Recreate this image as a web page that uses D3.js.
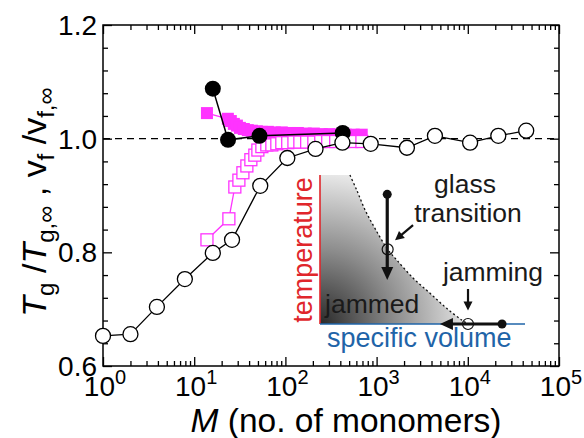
<!DOCTYPE html>
<html>
<head>
<meta charset="utf-8">
<script src="https://cdn.jsdelivr.net/npm/d3@7"></script>
<style>
  body { margin: 0; background: #fff; }
  svg { display: block; font-family: "Liberation Sans", Arial, Helvetica, sans-serif; }
</style>
</head>
<body>
<svg id="chart" width="584" height="438"></svg>
<script>
// chain length M, open circles (Tg ratio)
var openM = [1, 2, 3.9, 7.9, 16, 26, 53, 105, 214, 422, 862, 2150, 4360, 10600, 21600, 43700];
var openY = [0.653, 0.656, 0.704, 0.753, 0.799, 0.822, 0.917, 0.966, 0.982, 0.993, 0.991, 0.984, 1.005, 0.993, 1.005, 1.014];

// filled circles
var filledM = [16, 23.5, 52, 425];
var filledY = [1.088, 0.998, 1.005, 1.010];

// magenta filled squares
var sqFilledM = [13.8, 23.4, 25.2, 27.2, 29.4, 31.7, 35.0, 38.7, 42.9, 48.6, 55.2, 64.2, 76.5, 91.3, 112, 137, 167, 205, 250, 306, 375, 459, 561, 687];
var sqFilledY = [1.045, 1.035, 1.031, 1.026, 1.023, 1.019, 1.017, 1.015, 1.014, 1.013, 1.012, 1.012, 1.011, 1.011, 1.010, 1.010, 1.009, 1.009, 1.008, 1.008, 1.007, 1.007, 1.007, 1.007];

// magenta open squares
var sqOpenM = [13.8, 24, 27.9, 30.9, 34.2, 37.8, 41.8, 46.2, 49.9, 55.2, 62.5, 71, 80.5, 91.3, 106, 124, 144, 171, 205, 244, 291, 356, 436, 533, 690];
var sqOpenY = [0.822, 0.859, 0.915, 0.927, 0.940, 0.952, 0.963, 0.971, 0.980, 0.986, 0.989, 0.989, 0.991, 0.993, 0.993, 0.994, 0.994, 0.994, 0.994, 0.995, 0.995, 0.995, 0.995, 0.995, 0.995];

var xTickExps = [0, 1, 2, 3, 4, 5];
var yTicks = [0.6, 0.8, 1.0, 1.2];

// inset schematic, normalized volume / temperature
var boundaryV = [0.146, 0.179, 0.22, 0.268, 0.33, 0.374, 0.455, 0.537, 0.618, 0.691, 0.722];
var boundaryT = [1.0, 0.899, 0.765, 0.642, 0.501, 0.43, 0.307, 0.206, 0.105, 0.027, 0];

var svg = d3.select("#chart");
var magenta = "#ff33ff";

var x = d3.scaleLog().domain([1, 1e5]).range([103, 559]);
var y = d3.scaleLinear().domain([0.6, 1.2]).range([366, 25]);

var minorX = [];
xTickExps.slice(0, -1).forEach(function (e) {
    for (var k = 2; k <= 9; k++) minorX.push(k * Math.pow(10, e));
});
var minorY = d3.range(0.64, 1.2, 0.04).filter(function (v) {
    return Math.abs(v * 5 - Math.round(v * 5)) > 0.01;
});
var majorX = xTickExps.map(function (e) { return Math.pow(10, e); });

function styleAxis(g) {
    g.selectAll("path").remove();
    g.selectAll("line").attr("stroke", "#000").attr("stroke-width", 1.3);
    g.selectAll("text").remove();
}

// ticks, all inward
[[d3.axisBottom, 366], [d3.axisTop, 25]].forEach(function (a) {
    svg.append("g").attr("transform", "translate(0," + a[1] + ")")
        .call(a[0](x).tickValues(majorX).tickSize(-9)).call(styleAxis);
    svg.append("g").attr("transform", "translate(0," + a[1] + ")")
        .call(a[0](x).tickValues(minorX).tickSize(-5)).call(styleAxis);
});
[[d3.axisLeft, 103], [d3.axisRight, 559]].forEach(function (a) {
    svg.append("g").attr("transform", "translate(" + a[1] + ",0)")
        .call(a[0](y).tickValues(yTicks).tickSize(-9)).call(styleAxis);
    svg.append("g").attr("transform", "translate(" + a[1] + ",0)")
        .call(a[0](y).tickValues(minorY).tickSize(-5)).call(styleAxis);
});

svg.append("rect")
    .attr("x", x(1)).attr("y", y(1.2))
    .attr("width", x(1e5) - x(1)).attr("height", y(0.6) - y(1.2))
    .attr("fill", "none").attr("stroke", "#000").attr("stroke-width", 1.5);

// tick labels
svg.selectAll(".xl").data(xTickExps).enter().append("text")
    .attr("x", function (d) { return x(Math.pow(10, d)) + 2; })
    .attr("y", 396)
    .attr("text-anchor", "middle")
    .attr("font-size", 28)
    .each(function (d) {
        var t = d3.select(this);
        t.append("tspan").text("10");
        t.append("tspan").attr("dy", -12).attr("font-size", 20).text(d);
    });

svg.selectAll(".yl").data(yTicks).enter().append("text")
    .attr("x", 97)
    .attr("y", function (d) { return y(d) + 10; })
    .attr("text-anchor", "end")
    .attr("font-size", 28)
    .text(function (d) { return d.toFixed(1); });

// axis titles
var xt = svg.append("text").attr("x", 346).attr("y", 432)
    .attr("text-anchor", "middle").attr("font-size", 33.5);
xt.append("tspan").attr("font-style", "italic").text("M");
xt.append("tspan").text(" (no. of monomers)");

var yt = svg.append("text").attr("transform", "translate(46,202) rotate(-90)")
    .attr("text-anchor", "middle").attr("font-size", 34);
yt.append("tspan").attr("font-style", "italic").text("T");
yt.append("tspan").attr("font-size", 24).attr("dy", 8).text("g");
yt.append("tspan").attr("dy", -8).text(" /");
yt.append("tspan").attr("font-style", "italic").text("T");
yt.append("tspan").attr("font-size", 24).attr("dy", 8).text("g,\u221e");
yt.append("tspan").attr("dy", -8).text(" ,  v");
yt.append("tspan").attr("font-size", 24).attr("dy", 8).text("f");
yt.append("tspan").attr("dy", -8).text(" /v");
yt.append("tspan").attr("font-size", 24).attr("dy", 8).text("f,\u221e");

// reference line at 1.0
svg.append("line")
    .attr("x1", x(1)).attr("x2", x(1e5))
    .attr("y1", y(1)).attr("y2", y(1))
    .attr("stroke", "#000").attr("stroke-width", 1.4)
    .attr("stroke-dasharray", "7,5");

// ---- inset ----
var iv = d3.scaleLinear().domain([0, 1]).range([320, 525]);
var it = d3.scaleLinear().domain([0, 1]).range([324, 175]);

var grad = svg.append("defs").append("radialGradient")
    .attr("id", "jam").attr("gradientUnits", "userSpaceOnUse")
    .attr("cx", iv(0)).attr("cy", it(0)).attr("r", 165);
grad.append("stop").attr("offset", 0).attr("stop-color", "#2a2a2a");
grad.append("stop").attr("offset", 0.45).attr("stop-color", "#8c8c8c");
grad.append("stop").attr("offset", 1).attr("stop-color", "#fafafa");

var boundary = boundaryV.map(function (v, i) { return [iv(v), it(boundaryT[i])]; });
var curve = d3.line().curve(d3.curveCatmullRom);

svg.append("path")
    .attr("d", "M" + iv(0) + "," + it(0) + "L" + iv(0) + "," + it(1) + "L" + curve(boundary).slice(1) + "Z")
    .attr("fill", "url(#jam)");
svg.append("path")
    .attr("d", curve(boundary))
    .attr("fill", "none").attr("stroke", "#111").attr("stroke-width", 1.3)
    .attr("stroke-dasharray", "2,2.5");

svg.append("line")
    .attr("x1", iv(0)).attr("x2", iv(0)).attr("y1", it(0)).attr("y2", it(1))
    .attr("stroke", "#e0262b").attr("stroke-width", 1.6);
svg.append("line")
    .attr("x1", iv(0)).attr("x2", iv(1)).attr("y1", it(0)).attr("y2", it(0))
    .attr("stroke", "#1f64a8").attr("stroke-width", 1.6);

function arrow(x1, y1, x2, y2, w, hl, hw) {
    var a = Math.atan2(y2 - y1, x2 - x1),
        bx = x2 - hl * Math.cos(a), by = y2 - hl * Math.sin(a),
        px = Math.sin(a) * hw / 2, py = -Math.cos(a) * hw / 2;
    svg.append("line")
        .attr("x1", x1).attr("y1", y1).attr("x2", bx + Math.cos(a)).attr("y2", by + Math.sin(a))
        .attr("stroke", "#111").attr("stroke-width", w);
    svg.append("path")
        .attr("d", "M" + x2 + "," + y2 + "L" + (bx + px) + "," + (by + py) + "L" + (bx - px) + "," + (by - py) + "Z")
        .attr("fill", "#111");
}

// glass transition: cooling path
arrow(iv(0.328), it(0.87), iv(0.328), it(0.295), 3.2, 13, 12);
svg.append("circle").attr("cx", iv(0.328)).attr("cy", it(0.87)).attr("r", 4.5).attr("fill", "#111");
svg.append("circle").attr("cx", iv(0.33)).attr("cy", it(0.501)).attr("r", 5.5)
    .attr("fill", "none").attr("stroke", "#111").attr("stroke-width", 1.2);
arrow(iv(0.454), it(0.664), iv(0.366), it(0.562), 2.2, 9, 9);

// jamming: compression path
arrow(iv(0.888), it(0), iv(0.585), it(0), 3.2, 13, 12);
svg.append("circle").attr("cx", iv(0.888)).attr("cy", it(0)).attr("r", 4.5).attr("fill", "#111");
svg.append("circle").attr("cx", iv(0.722)).attr("cy", it(0)).attr("r", 5.5)
    .attr("fill", "none").attr("stroke", "#111").attr("stroke-width", 1.2);
arrow(iv(0.722), it(0.235), iv(0.722), it(0.09), 2.2, 9, 9);

var insetText = [
    ["glass", 465, 193, "middle"],
    ["transition", 468, 222, "middle"],
    ["jamming", 493, 281, "middle"],
    ["jammed", 325, 313, "start"]
];
insetText.forEach(function (d) {
    svg.append("text").attr("x", d[1]).attr("y", d[2]).attr("text-anchor", d[3])
        .attr("font-size", 26.5).attr("fill", "#1a1a1a").text(d[0]);
});
svg.append("text").attr("transform", "translate(312,250) rotate(-90)")
    .attr("text-anchor", "middle").attr("font-size", 27).attr("fill", "#e0262b").text("temperature");
svg.append("text").attr("x", 327).attr("y", 347)
    .attr("font-size", 27).attr("fill", "#1f64a8").text("specific volume");

// ---- data ----
var line = d3.line().x(function (d) { return x(d[0]); }).y(function (d) { return y(d[1]); });
var sqOpen = sqOpenM.map(function (m, i) { return [m, sqOpenY[i]]; });
var sqFilled = sqFilledM.map(function (m, i) { return [m, sqFilledY[i]]; });
var sq = 12;

svg.append("path").attr("d", line(sqFilled)).attr("fill", "none").attr("stroke", magenta).attr("stroke-width", 1.3);
svg.selectAll(".sf").data(sqFilled).enter().append("rect")
    .attr("x", function (d) { return x(d[0]) - sq / 2; })
    .attr("y", function (d) { return y(d[1]) - sq / 2; })
    .attr("width", sq).attr("height", sq)
    .attr("fill", magenta);

svg.append("path").attr("d", line(sqOpen)).attr("fill", "none").attr("stroke", magenta).attr("stroke-width", 1.3);
svg.selectAll(".so").data(sqOpen).enter().append("rect")
    .attr("x", function (d) { return x(d[0]) - sq / 2; })
    .attr("y", function (d) { return y(d[1]) - sq / 2; })
    .attr("width", sq).attr("height", sq)
    .attr("fill", "#fff").attr("stroke", magenta).attr("stroke-width", 1.3);

var filled = filledM.map(function (m, i) { return [m, filledY[i]]; });
svg.append("path").attr("d", line(filled)).attr("fill", "none").attr("stroke", "#000").attr("stroke-width", 1.5);
svg.selectAll(".fc").data(filled).enter().append("circle")
    .attr("cx", function (d) { return x(d[0]); })
    .attr("cy", function (d) { return y(d[1]); })
    .attr("r", 8).attr("fill", "#000");

var open = openM.map(function (m, i) { return [m, openY[i]]; });
svg.append("path").attr("d", line(open)).attr("fill", "none").attr("stroke", "#000").attr("stroke-width", 1.3);
svg.selectAll(".oc").data(open).enter().append("circle")
    .attr("cx", function (d) { return x(d[0]); })
    .attr("cy", function (d) { return y(d[1]); })
    .attr("r", 7.5).attr("fill", "#fff").attr("stroke", "#000").attr("stroke-width", 1.3);
</script>
</body>
</html>
